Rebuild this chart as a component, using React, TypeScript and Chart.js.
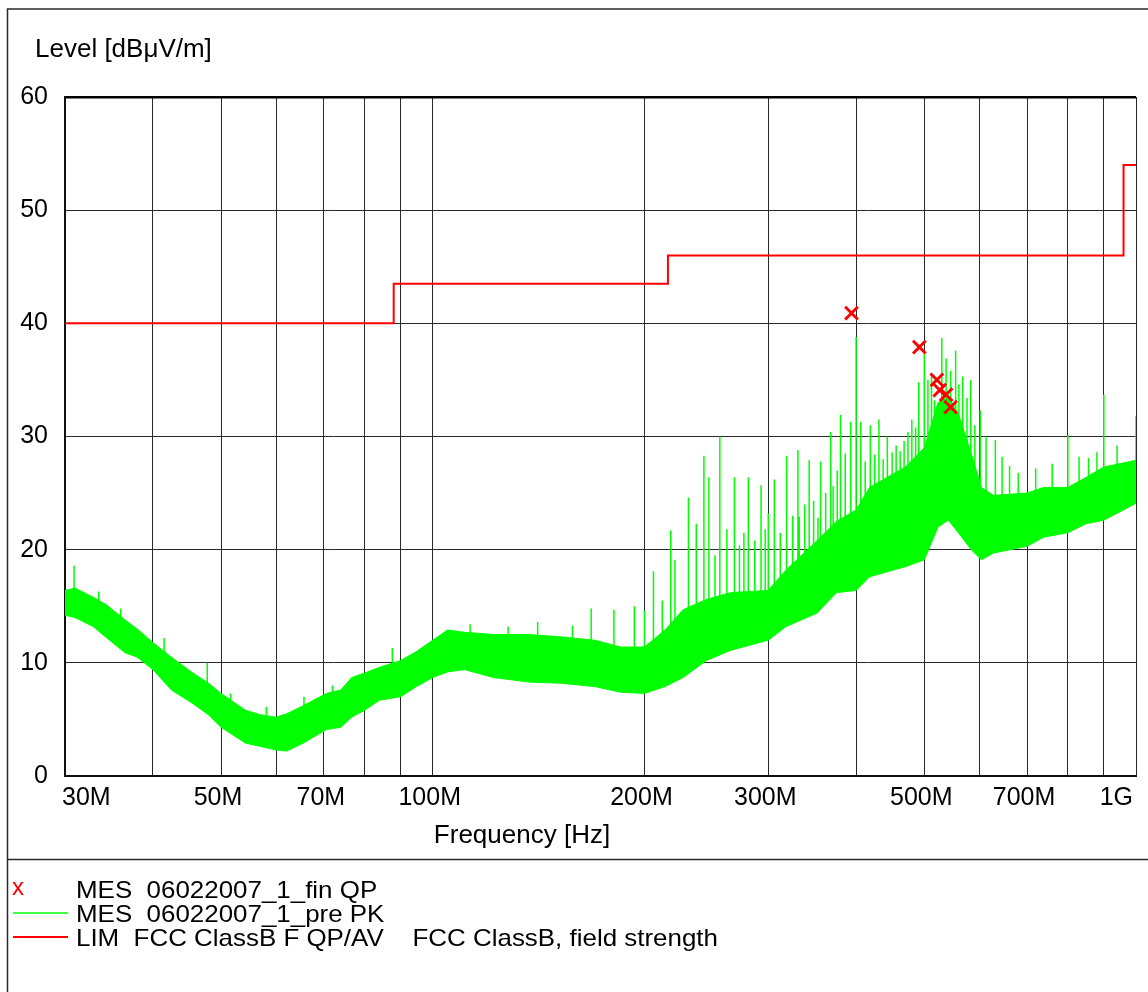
import React, { useEffect, useRef } from 'react';
import { Chart, registerables } from 'chart.js';

Chart.register(...registerables);

const FONT = '"Liberation Sans", Arial, Helvetica, sans-serif';

// ---- axis ticks ----
const xGridValues = [30, 40, 50, 60, 70, 80, 90, 100, 200, 300, 400, 500, 600, 700, 800, 900, 1000];
const xLabelValues = [30, 50, 70, 100, 200, 300, 500, 700, 1000];
const xLabelTexts = ['30M', '50M', '70M', '100M', '200M', '300M', '500M', '700M', '1G'];
const yMin = 0;
const yMax = 60;
const yStep = 10;

const yTitle = 'Level [dBμV/m]';
const xTitle = 'Frequency [Hz]';

// ---- limit line (MHz, dBµV/m) ----
const limitFreq = [30, 88, 216, 960, 1000];
const limitLevel = [40, 43.5, 46, 54, 54];

// ---- QP final measurements ----
const qpFreq = [394, 492, 521, 526, 537, 545];
const qpLevel = [40.9, 37.9, 35.0, 34.1, 33.7, 32.6];

// ---- PK pre-scan envelope (MHz, upper, lower) ----
const pkFreq = [30, 31, 32.9, 34.4, 36.5, 38, 40, 42.5, 45.6, 48, 50, 54.2, 57, 59.9, 62, 65.4, 70.6, 74, 76.7, 80, 84, 90, 94.8, 100, 105, 111, 122, 137, 152, 170, 185, 200, 214, 227, 245, 265, 300, 318, 352, 375, 400, 418, 470, 500, 523, 541, 559, 583, 603, 627, 700, 739, 800, 850, 900, 1000];
const pkUpper = [16.4, 16.6, 15.8, 15.1, 13.8, 13.0, 11.8, 10.5, 9.1, 8.2, 7.3, 5.8, 5.4, 5.2, 5.5, 6.2, 7.3, 7.6, 8.7, 9.1, 9.6, 10.2, 11.0, 12.0, 12.9, 12.7, 12.5, 12.5, 12.3, 12.0, 11.4, 11.4, 12.9, 14.7, 15.6, 16.2, 16.4, 18.2, 20.8, 22.5, 23.5, 25.5, 27.3, 29.0, 33.0, 33.5, 32.0, 28.5, 25.5, 24.8, 25.0, 25.5, 25.5, 26.4, 27.3, 27.9];
const pkLower = [14.2, 14.0, 13.2, 12.2, 10.9, 10.5, 9.4, 7.6, 6.4, 5.4, 4.3, 2.9, 2.6, 2.3, 2.2, 2.9, 4.1, 4.3, 5.2, 5.8, 6.7, 7.0, 7.9, 8.7, 9.2, 9.4, 8.7, 8.3, 8.2, 7.9, 7.4, 7.3, 7.9, 8.7, 10.2, 11.1, 12.0, 13.2, 14.4, 16.2, 16.4, 17.6, 18.5, 19.1, 22.0, 22.6, 21.5, 20.0, 19.1, 19.7, 20.3, 21.1, 21.5, 22.3, 22.6, 24.1];

// ---- PK narrow spikes (MHz, top, base) ----
const spikeFreq = [30.9, 33.5, 36, 41.5, 47.8, 51.6, 58, 65.6, 72, 87.6, 105, 113, 128, 141, 158, 168, 181, 193.5, 200, 206, 212, 218, 221, 231, 237, 243, 247, 252, 256, 262, 268.5, 273, 277, 281, 287, 293, 297, 300, 306, 312, 318.6, 325, 330.6, 332, 338, 343, 348, 353, 356, 362, 368, 371, 376, 380, 386, 393, 400, 406, 412, 419, 425, 431, 437, 443, 450, 456, 462, 468, 474, 480, 486, 491, 500, 506, 512, 517, 529.5, 537, 545, 554, 560, 567, 575, 582, 590, 600.5, 612, 631, 645, 661, 680, 720, 760, 800, 830, 856, 880, 900, 940, 1000];
const spikeTop = [18.6, 16.3, 14.8, 12.2, 10.0, 7.3, 6.1, 7.0, 8.0, 11.3, 12.9, 13.4, 13.2, 13.6, 13.3, 14.8, 14.7, 15.0, 14.6, 18.1, 15.5, 21.7, 19.1, 24.6, 22.3, 28.3, 26.4, 19.5, 30.0, 21.8, 26.4, 20.4, 21.5, 26.4, 20.8, 25.7, 21.8, 23.2, 26.2, 21.5, 28.3, 23.0, 28.8, 22.9, 24.0, 27.9, 24.3, 22.8, 27.8, 25.0, 30.4, 25.6, 27.0, 31.9, 28.5, 31.3, 38.8, 31.3, 27.8, 31.0, 28.4, 31.5, 28.0, 30.0, 28.6, 29.2, 28.7, 29.6, 30.4, 31.5, 30.8, 34.8, 37.5, 35.0, 35.6, 33.2, 38.7, 36.9, 35.8, 37.6, 34.6, 35.3, 33.4, 35.0, 31.0, 32.3, 30.0, 29.7, 28.2, 27.4, 26.8, 27.2, 27.6, 30.1, 28.2, 28.1, 28.6, 33.7, 29.2, 31.8];
const spikeBase = [15, 14, 12, 10, 7, 5, 4, 4, 6, 8, 10, 10, 10, 10, 10, 10, 10, 10, 10, 10, 11, 11, 11, 12, 12, 12, 12, 13, 13, 13, 13, 13, 13, 13, 14, 14, 14, 14, 14, 14, 15, 15, 15, 15, 16, 16, 16, 16, 16, 17, 17, 17, 17, 18, 18, 18, 18, 19, 19, 20, 20, 20, 21, 21, 21, 21, 22, 22, 22, 22, 23, 23, 23, 24, 24, 25, 26, 26, 26, 26, 25, 25, 24, 23, 22, 22, 22, 22, 22, 22, 22, 23, 23, 23, 23, 24, 24, 24, 25, 25];

// ---- legend ----
const legendTexts = ['MES  06022007_1_fin QP', 'MES  06022007_1_pre PK', 'LIM  FCC ClassB F QP/AV    FCC ClassB, field strength'];

const RED = 'rgb(255,0,0)';
const GREEN = 'rgb(0,255,0)';

const decorPlugin = {
  id: 'decor',
  afterDraw(chart: any) {
    const ctx = chart.ctx as CanvasRenderingContext2D;
    ctx.save();
    // frame
    ctx.strokeStyle = '#2a2a2a';
    ctx.lineWidth = 1.5;
    ctx.beginPath();
    ctx.moveTo(7.5, 992);
    ctx.lineTo(7.5, 9);
    ctx.lineTo(1148, 9);
    ctx.moveTo(7.5, 859.5);
    ctx.lineTo(1148, 859.5);
    ctx.stroke();

    ctx.fillStyle = '#000';
    ctx.font = `26px ${FONT}`;
    ctx.textBaseline = 'alphabetic';
    ctx.textAlign = 'left';
    ctx.fillText(yTitle, 35, 57);
    ctx.textAlign = 'center';
    ctx.fillText(xTitle, 522, 843);

    // legend
    const rowCenters = [889, 913, 937];
    ctx.textAlign = 'left';
    ctx.font = `24px ${FONT}`;
    legendTexts.forEach((t, i) => {
      ctx.save();
      ctx.translate(76, rowCenters[i] + 8.5);
      ctx.scale(1.08, 1);
      ctx.fillText(t, 0, 0);
      ctx.restore();
    });
    ctx.fillStyle = RED;
    ctx.font = `24px ${FONT}`;
    ctx.fillText('x', 12, rowCenters[0] + 6);
    ctx.strokeStyle = GREEN;
    ctx.lineWidth = 1.5;
    ctx.beginPath();
    ctx.moveTo(13, rowCenters[1]);
    ctx.lineTo(68, rowCenters[1]);
    ctx.stroke();
    ctx.strokeStyle = RED;
    ctx.lineWidth = 2;
    ctx.beginPath();
    ctx.moveTo(13, rowCenters[2]);
    ctx.lineTo(68, rowCenters[2]);
    ctx.stroke();
    ctx.restore();
  },
};

export default function App() {
  const ref = useRef<HTMLCanvasElement | null>(null);

  useEffect(() => {
    if (!ref.current) return;

    const spikeData: any[] = [];
    spikeFreq.forEach((f, i) => {
      spikeData.push({ x: f, y: spikeBase[i] });
      spikeData.push({ x: f, y: spikeTop[i] });
      spikeData.push({ x: f, y: null });
    });

    const chart = new Chart(ref.current, {
      type: 'line',
      data: {
        datasets: [
          {
            label: 'QP',
            data: qpFreq.map((f, i) => ({ x: f, y: qpLevel[i] })),
            showLine: false,
            pointStyle: 'crossRot',
            pointRadius: 9,
            pointBorderWidth: 3,
            borderColor: RED,
            backgroundColor: RED,
            order: 0,
          },
          {
            label: 'LIM',
            data: limitFreq.map((f, i) => ({ x: f, y: limitLevel[i] })),
            stepped: 'before',
            borderColor: RED,
            borderWidth: 2,
            pointRadius: 0,
            fill: false,
            order: 1,
          },
          {
            label: 'spikes',
            data: spikeData,
            borderColor: GREEN,
            borderWidth: 1.5,
            pointRadius: 0,
            spanGaps: false,
            fill: false,
            order: 2,
          },
          {
            label: 'PK upper',
            data: pkFreq.map((f, i) => ({ x: f, y: pkUpper[i] })),
            borderColor: GREEN,
            backgroundColor: GREEN,
            borderWidth: 1,
            pointRadius: 0,
            fill: '+1',
            order: 3,
          },
          {
            label: 'PK lower',
            data: pkFreq.map((f, i) => ({ x: f, y: pkLower[i] })),
            borderColor: GREEN,
            borderWidth: 1,
            pointRadius: 0,
            fill: false,
            order: 4,
          },
        ],
      },
      options: {
        animation: false,
        responsive: true,
        maintainAspectRatio: false,
        layout: { padding: { left: 0, top: 97, right: 10, bottom: 156 } },
        plugins: {
          legend: { display: false },
          tooltip: { enabled: false },
          title: { display: false },
        },
        scales: {
          x: {
            type: 'logarithmic',
            position: 'bottom',
            min: 30,
            max: 1000,
            afterBuildTicks: (s: any) => {
              s.ticks = xGridValues.map((v) => ({ value: v }));
            },
            afterFit: (s: any) => {
              s.height = 60;
            },
            ticks: {
              autoSkip: false,
              maxRotation: 0,
              minRotation: 0,
              align: 'inner',
              labelOffset: -3,
              padding: 7,
              color: '#000',
              font: { family: FONT, size: 25 },
              callback: (v: any) => {
                const idx = xLabelValues.indexOf(Number(v));
                return idx >= 0 ? xLabelTexts[idx] : '';
              },
            },
            grid: { color: '#2a2a2a', lineWidth: 1, drawTicks: false },
            border: { color: '#111', width: 2 },
          },
          y: {
            type: 'linear',
            min: yMin,
            max: yMax,
            afterFit: (s: any) => {
              s.width = 65;
            },
            ticks: {
              stepSize: yStep,
              padding: 17,
              color: '#000',
              font: { family: FONT, size: 25 },
            },
            grid: {
              color: (c: any) => (c.tick && c.tick.value === yMax ? '#000' : '#2a2a2a'),
              lineWidth: (c: any) => (c.tick && c.tick.value === yMax ? 2.5 : 1),
              drawTicks: false,
            },
            border: { color: '#111', width: 2 },
          },
        },
      } as any,
      plugins: [decorPlugin],
    });

    return () => chart.destroy();
  }, []);

  return (
    <div style={{ position: 'absolute', left: 0, top: 0, width: 1148, height: 992, background: '#fff' }}>
      <canvas ref={ref} />
    </div>
  );
}
